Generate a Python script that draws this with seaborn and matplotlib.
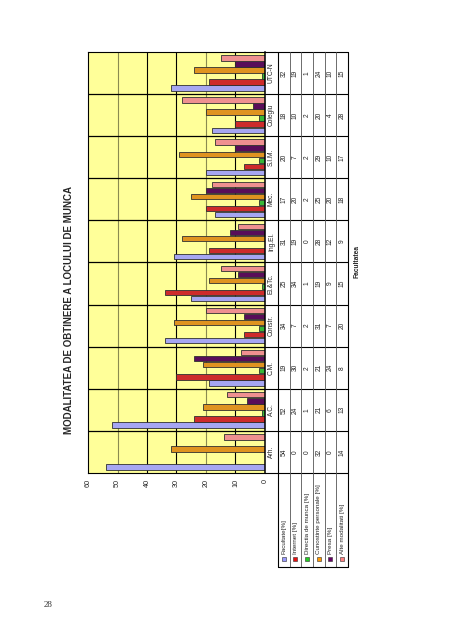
import numpy as np
import pandas as pd
import matplotlib
matplotlib.use('Agg')
import matplotlib.pyplot as plt
import seaborn as sns

# ---------------------------------------------------------
# DATA - citite din tabelul graficului
# ---------------------------------------------------------
categories = ['Arh.', 'A.C.', 'C.M.', 'Constr.', 'El.&Tc.', 'Ing.El.',
              'Mec.', 'S.I.M.', 'Colegiu', 'UTC-N']
series_names = ['Facultate[%]', 'Internet [%]', 'Directia de munca [%]',
                'Cunostinte personale [%]', 'Presa [%]', 'Alte modalitati [%]']
facultate = [54, 52, 19, 34, 25, 31, 17, 20, 18, 32]
internet = [0, 24, 30, 7, 34, 19, 20, 7, 10, 19]
directia = [0, 1, 2, 2, 1, 0, 2, 2, 2, 1]
cunostinte = [32, 21, 21, 31, 19, 28, 25, 29, 20, 24]
presa = [0, 6, 24, 7, 9, 12, 20, 10, 4, 10]
alte = [14, 13, 8, 20, 15, 9, 18, 17, 28, 15]
value_ticks = [0, 10, 20, 30, 40, 50, 60]

colors = ['#9999FF', '#E81010', '#22CC22', '#FF9900', '#660066', '#FF8080']
title = 'MODALITATEA DE OBTINERE A LOCULUI DE MUNCA'

all_series = [facultate, internet, directia, cunostinte, presa, alte]
df = pd.DataFrame({
    'Facultatea': np.tile(categories, len(series_names)),
    'Serie': np.repeat(series_names, len(categories)),
    'Valoare': np.concatenate(all_series),
})

sns.set_style('white')
plt.rcParams['font.family'] = ['Liberation Sans', 'DejaVu Sans']

W, H = 452, 640
fig = plt.figure(figsize=(W / 100, H / 100), dpi=100)

# plot area in pixels (pagina e rotita 90 grade)
x_left, x_right, y_top, y_bot = 88, 265, 52, 473
ax = fig.add_axes([x_left / W, 1 - y_bot / H, (x_right - x_left) / W, (y_bot - y_top) / H])

sns.barplot(data=df, x='Valoare', y='Facultatea', hue='Serie', order=categories,
            hue_order=series_names, palette=colors, orient='h', width=0.86, gap=0.1,
            edgecolor='#303030', linewidth=0.6, errorbar=None, legend=False, ax=ax)

ax.set_ylim(-0.5, len(categories) - 0.5)
ax.set_xlim(60, 0)
ax.set_facecolor('#FFFF99')
ax.set_xlabel('')
ax.set_ylabel('')
ax.set_yticks([])
ax.set_xticks(value_ticks)
ax.set_xticklabels([str(v) for v in value_ticks], rotation=90)
ax.tick_params(axis='x', labelsize=5.2, length=2.5, width=0.6, pad=1.5, direction='out')

for v in value_ticks[1:-1]:
    ax.axvline(v, color='#8a8a50' if v in (20, 50) else 'black', lw=0.8, zorder=0)
for k in range(len(categories) - 1):
    ax.axhline(k + 0.5, color='black', lw=0.9, zorder=0)
for s in ax.spines.values():
    s.set_color('black')
    s.set_linewidth(0.8)
ax.spines['right'].set_linewidth(1.1)

# ---------------------------------------------------------
# TABEL DE DATE (in dreapta graficului)
# ---------------------------------------------------------
def px(xp):
    return (xp - x_left) / (x_right - x_left)

def py(yp):
    return (y_bot - yp) / (y_bot - y_top)

trans = ax.get_yaxis_transform()
col_edges = np.linspace(278, 348, len(series_names) + 1)
col_centers = (col_edges[:-1] + col_edges[1:]) / 2

for k in range(len(categories) + 1):
    b = k - 0.5
    ax.plot([px(265), px(348)], [b, b], transform=trans, color='black', lw=0.8, clip_on=False)
for i, xe in enumerate(col_edges):
    outer = i in (0, len(col_edges) - 1)
    ax.plot([px(xe), px(xe)], [py(567), 1], transform=ax.transAxes,
            color='black' if outer else '#555555', lw=0.8 if outer else 0.6, clip_on=False)
ax.plot([px(278), px(348)], [py(567), py(567)], transform=ax.transAxes,
        color='black', lw=0.8, clip_on=False)

for j, cat in enumerate(categories):
    ax.text(px(271.5), j, cat, rotation=90, ha='center', va='center',
            fontsize=4.8, transform=trans, clip_on=False)
    for i, vals in enumerate(all_series):
        ax.text(px(col_centers[i]), j, str(vals[j]), rotation=90, ha='center',
                va='center', fontsize=4.8, transform=trans, clip_on=False)

# legenda in tabel
for i, name in enumerate(series_names):
    ax.plot([px(col_centers[i])], [py(559)], marker='s', ms=2.6, mfc=colors[i],
            mec='#303030', mew=0.4, transform=ax.transAxes, clip_on=False)
    ax.text(px(col_centers[i]), py(554), name, rotation=90, ha='center', va='bottom',
            fontsize=4.5, transform=ax.transAxes, clip_on=False)

fig.text(357 / W, 1 - 262 / H, 'Facultatea', rotation=90, ha='center', va='center',
         fontsize=4.8, fontweight='bold')
fig.text(69 / W, 1 - 310 / H, title, rotation=90, ha='center', va='center',
         fontsize=7, fontweight='bold')
fig.text(48 / W, 1 - 605 / H, '28', ha='center', va='center', fontsize=6.5,
         color='#333333', family='Liberation Serif')

fig.savefig('out.png', dpi=100)
